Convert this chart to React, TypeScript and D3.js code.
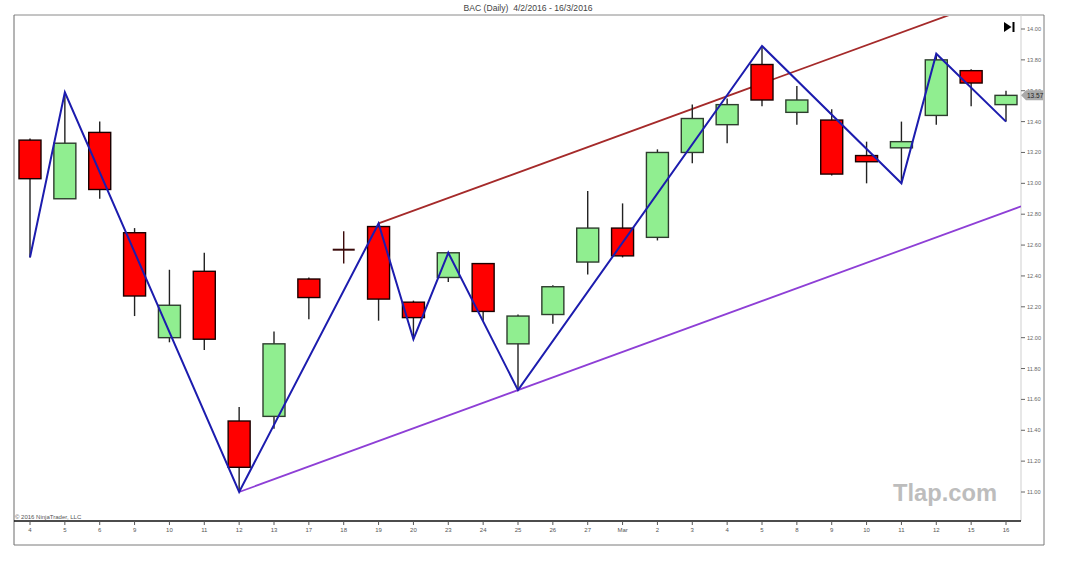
import React from 'react';
import * as d3 from 'd3';

// ---- data ----
const dateLabels = ['4','5','6','9','10','11','12','13','17','18','19','20','23','24','25','26','27','Mar','2','3','4','5','8','9','10','11','12','15','16'];
const opens  = [13.28,12.90,13.33,12.68,12.00,12.43,11.46,11.49,12.38,12.57,12.72,12.23,12.39,12.48,11.96,12.15,12.49,12.71,12.65,13.20,13.38,13.77,13.46,13.41,13.18,13.23,13.44,13.73,13.51];
const highs  = [13.29,13.59,13.40,12.71,12.44,12.55,11.55,12.04,12.39,12.69,12.74,12.24,12.55,12.48,12.15,12.34,12.95,12.87,13.22,13.51,13.55,13.89,13.63,13.48,13.27,13.40,13.84,13.74,13.60];
const lows   = [12.52,12.90,12.90,12.14,11.97,11.92,11.00,11.41,12.12,12.48,12.11,11.99,12.36,12.11,11.66,12.09,12.41,12.52,12.63,13.13,13.26,13.50,13.38,13.05,13.00,13.00,13.38,13.50,13.40];
const closes = [13.03,13.26,12.96,12.27,12.21,11.99,11.16,11.96,12.26,12.57,12.25,12.13,12.55,12.17,12.14,12.33,12.71,12.53,13.20,13.42,13.51,13.54,13.54,13.06,13.14,13.27,13.80,13.65,13.57];

const zigzagPivots = [0,1,6,10,11,12,14,21,25,26,28];
const zigzagKinds  = ['L','H','L','H','L','H','L','H','L','H','L'];

// channel anchors: lower line through two lows, upper line parallel through a high
const channelLowA = 6;
const channelLowB = 14;
const channelHigh = 10;

const yTickValues = [11.0,11.2,11.4,11.6,11.8,12.0,12.2,12.4,12.6,12.8,13.0,13.2,13.4,13.6,13.8,14.0];

const title = 'BAC (Daily)  4/2/2016 - 16/3/2016';
const lastPriceLabel = '13.57';

const W = 1068, H = 581;
const P = { left: 14, top: 15, right: 1021, bottom: 521 };
const FRAME = { right: 1044, bottom: 545 };

export default function App() {
  const n = closes.length;
  const x = d3.scaleLinear().domain([0, n - 1]).range([30, 1006]);
  const y = d3.scaleLinear().domain([11, 14]).range([492, 29]);
  const bw = 22;

  const zz = zigzagPivots.map((i, k) => [x(i), y(zigzagKinds[k] === 'H' ? highs[i] : lows[i])] as [number, number]);
  const zzPath = d3.line()(zz) || '';

  const slope = (lows[channelLowB] - lows[channelLowA]) / (channelLowB - channelLowA);
  const endIdx = x.invert(P.right);
  const lowerPath = d3.line()([
    [x(channelLowA), y(lows[channelLowA])],
    [x(endIdx), y(lows[channelLowA] + slope * (endIdx - channelLowA))],
  ]) || '';
  const upperPath = d3.line()([
    [x(channelHigh), y(highs[channelHigh])],
    [x(endIdx), y(highs[channelHigh] + slope * (endIdx - channelHigh))],
  ]) || '';

  const font = '"Liberation Sans", Arial, sans-serif';
  const tagY = y(closes[n - 1]);

  return (
    <svg width={W} height={H} style={{ position: 'absolute', left: 0, top: 0, background: '#fff' }}>
      <defs>
        <clipPath id="plotClip">
          <rect x={P.left} y={P.top + 1} width={P.right - P.left} height={P.bottom - P.top - 1} />
        </clipPath>
      </defs>
      <rect x={0} y={0} width={W} height={H} fill="#fff" />
      {/* title */}
      <text x={528} y={11} textAnchor="middle" fontFamily={font} fontSize={8.6} fill="#444" style={{ whiteSpace: 'pre' }}>{title}</text>

      {/* frame */}
      <line x1={P.left} x2={FRAME.right} y1={P.top} y2={P.top} stroke="#8a8a8a" strokeWidth={1} />
      <line x1={P.left} x2={P.left} y1={P.top} y2={FRAME.bottom} stroke="#6a6a6a" strokeWidth={1} />
      <line x1={FRAME.right} x2={FRAME.right} y1={P.top} y2={FRAME.bottom} stroke="#7a7a7a" strokeWidth={1} />
      <line x1={P.left} x2={FRAME.right} y1={FRAME.bottom} y2={FRAME.bottom} stroke="#7a7a7a" strokeWidth={1} />
      <line x1={P.right} x2={P.right} y1={P.top} y2={P.bottom} stroke="#cfcfcf" strokeWidth={1} />

      {/* channel lines */}
      <g clipPath="url(#plotClip)">
        <path d={upperPath} stroke="#a52a2a" strokeWidth={1.8} fill="none" />
        <path d={lowerPath} stroke="#8e3fd6" strokeWidth={1.8} fill="none" />
      </g>

      {/* candles */}
      <g>
        {closes.map((c, i) => {
          const o = opens[i];
          const cx = x(i);
          const up = c > o;
          const doji = c === o;
          const top = y(Math.max(o, c));
          const bot = y(Math.min(o, c));
          return (
            <g key={i}>
              <line x1={cx} x2={cx} y1={y(highs[i])} y2={y(lows[i])} stroke={doji ? '#3a0a0a' : '#222'} strokeWidth={1.4} />
              {doji ? (
                <line x1={cx - bw / 2} x2={cx + bw / 2} y1={top} y2={top} stroke="#3a0a0a" strokeWidth={2} />
              ) : (
                <rect x={cx - bw / 2} y={top} width={bw} height={Math.max(1, bot - top)}
                  fill={up ? '#90ee90' : '#ff0000'} stroke={up ? '#2e3d2e' : '#1a0000'} strokeWidth={1.4} />
              )}
            </g>
          );
        })}
      </g>

      {/* zigzag */}
      <path d={zzPath} stroke="#1c1cae" strokeWidth={2} fill="none" strokeLinejoin="miter" />

      {/* x axis */}
      <line x1={P.left} x2={P.right} y1={P.bottom} y2={P.bottom} stroke="#111" strokeWidth={1.5} />
      {dateLabels.map((d, i) => (
        <g key={i}>
          <line x1={x(i)} x2={x(i)} y1={P.bottom} y2={P.bottom + 4} stroke="#555" strokeWidth={1} />
          <text x={x(i)} y={P.bottom + 11} textAnchor="middle" fontFamily={font} fontSize={6} fill="#555">{d}</text>
        </g>
      ))}

      {/* y axis */}
      {yTickValues.map((v) => (
        <g key={v}>
          <line x1={P.right} x2={P.right + 4} y1={y(v)} y2={y(v)} stroke="#666" strokeWidth={1} />
          <text x={P.right + 6} y={y(v) + 2} fontFamily={font} fontSize={5.6} fill="#666">{v.toFixed(2)}</text>
        </g>
      ))}

      {/* last price tag */}
      <polygon
        points={`${P.right},${tagY} ${P.right + 5},${tagY - 5} ${P.right + 22},${tagY - 5} ${P.right + 22},${tagY + 5} ${P.right + 5},${tagY + 5}`}
        fill="#a9a9a9" />
      <text x={P.right + 6} y={tagY + 2.2} fontFamily={font} fontSize={6.5} fill="#222">{lastPriceLabel}</text>

      {/* go-to-end icon */}
      <polygon points="1004,22 1011.5,27 1004,32" fill="#000" />
      <rect x={1012.5} y={22} width={2} height={10} fill="#000" />

      {/* copyright */}
      <text x={15} y={519} fontFamily={font} fontSize={6} fill="#555">© 2016 NinjaTrader, LLC</text>

      {/* watermark */}
      <text x={893} y={501} fontFamily={font} fontWeight="bold" fontSize={23} fill="#bdbdbd" textLength={104} lengthAdjust="spacingAndGlyphs">Tlap.com</text>
    </svg>
  );
}
